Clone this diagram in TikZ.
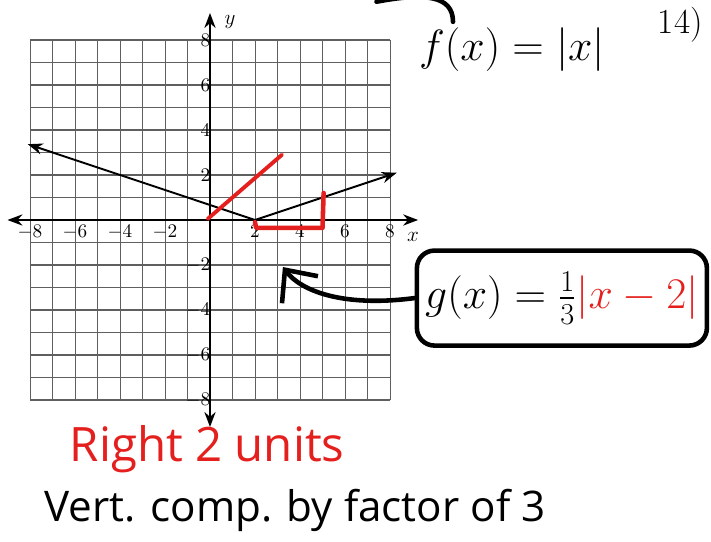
\documentclass[tikz,border=0pt]{standalone}
\usepackage{amsmath, amssymb}
\usepackage{fontspec}
\newfontfamily\handfont{Open Sans}
\usetikzlibrary{arrows.meta}
\definecolor{penRed}{RGB}{228, 32, 30}
\definecolor{gridGray}{RGB}{95, 95, 95}

\begin{document}
\begin{tikzpicture}[x=0.45cm, y=0.45cm,
    pen/.style={line width=2.6pt, line cap=round, line join=round},
    ticklab/.style={font=\fontsize{10.5}{12}\selectfont, inner sep=1pt}]
        \useasboundingbox (-9.333,-14.267) rectangle (22.267,9.778);
        \clip (-9.333,-14.267) rectangle (22.267,9.778);
        % grid
        \foreach \k in {-8,...,8} {
          \draw[gridGray, line width=0.5pt] (\k,-8) -- (\k,8);
          \draw[gridGray, line width=0.7pt] (-8,\k) -- (8,\k);
        }
        % axes
        \draw[line width=1pt, {Stealth[length=3mm]}-{Stealth[length=3mm]}] (-9,0) -- (9.25,0);
        \draw[line width=1pt, {Stealth[length=3mm]}-{Stealth[length=3mm]}] (0,-9.2) -- (0,9.2);
        \foreach \t in {-8,-6,-4,-2,2,4,6,8} {
          \node[ticklab, below] at (\t,-0.15) {$\t$};
          \node[ticklab, left] at (0.1,\t) {$\t$};
        }
        \node[font=\fontsize{12}{14}\selectfont] at (9.02,-0.76) {$x$};
        \node[font=\fontsize{12}{14}\selectfont] at (0.89,8.8) {$y$};
        % g(x) = 1/3 |x-2|
        \draw[line width=1.1pt, {Stealth[length=3mm]}-{Stealth[length=3mm]}] (-8.1,3.37) -- (2,0) -- (8.3,2.1);
        % red marks
        \draw[pen, penRed, line width=2.2pt] (-0.1,0.05) -- (3.2,2.9);
        \draw[pen, penRed] (2,-0.1) -- (2.05,-0.35) -- (5,-0.35) -- (5.05,1.2);
        % labels
        \node (fx) at (13.42,7.56) {\fontsize{30}{34}\selectfont $f(x)=|x|$};
        \coordinate (fstart) at (7.4,9.7);
        \draw[pen] (fstart) .. controls (9.5,10.1) and (10.8,10.0) .. ([xshift=0.8cm]fx.north west);
        \node[font=\fontsize{20}{24}\selectfont] (qnum) at (20.9,8.7) {14)};
        \node[draw, line width=2.6pt, rounded corners=10pt, minimum width=5.8cm,
          minimum height=1.9cm] (gbox) at (15.64,-3.47)
          {\fontsize{26}{30}\selectfont $g(x)=\frac{1}{3}\textcolor{penRed}{|x-2|}$};
        \coordinate (gtip) at (3.24,-2.09);
        \draw[pen, -{Straight Barb[length=5mm, width=9mm]}] (gbox.west) .. controls (5.8,-3.9) and (4.0,-3.1) .. (gtip);
        \node[penRed, font=\handfont\fontsize{27}{32}\selectfont] (shift) at (-0.13,-10.2) {Right 2 units};
        \node[font=\handfont\fontsize{24}{28}\selectfont] (squeeze) at (3.78,-12.9) {Vert. comp. by factor of 3};
      \end{tikzpicture}
\end{document}
